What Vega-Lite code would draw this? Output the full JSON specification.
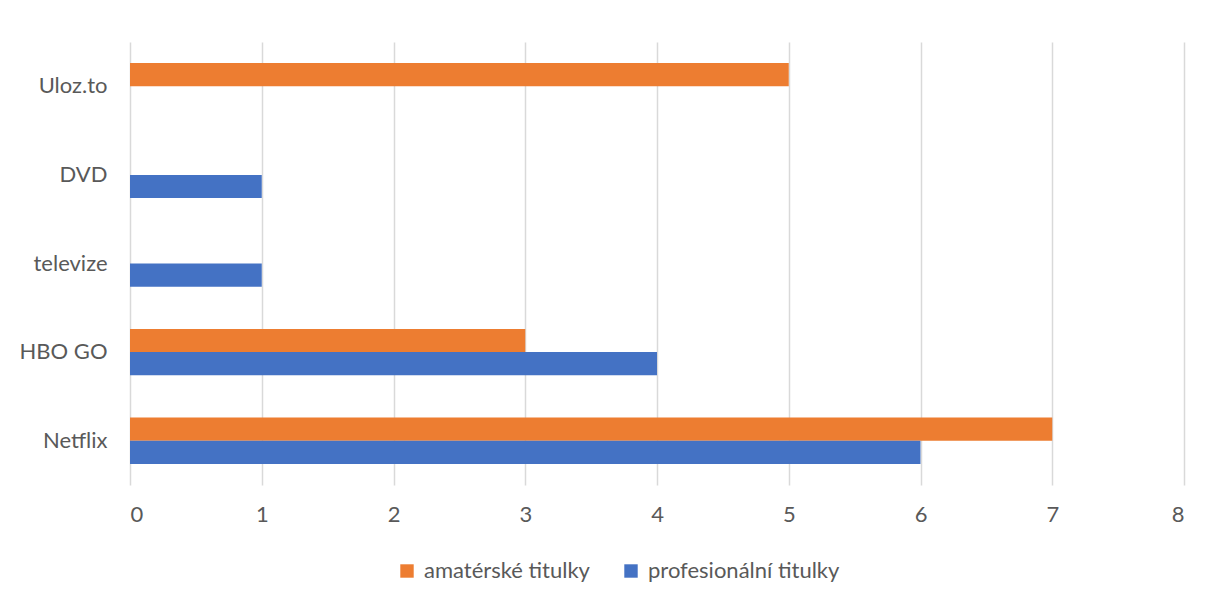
{
  "$schema": "https://vega.github.io/schema/vega-lite/v6.json",
  "width": 1054,
  "height": 443,
  "autosize": {"type": "none"},
  "padding": {"left": 130, "top": 42, "right": 23, "bottom": 117},
  "background": "white",
  "config": {
    "view": {"stroke": null},
    "font": "Lato",
    "axis": {"labelFont": "Lato", "labelColor": "#595959", "labelFontSize": 22, "labelLimit": 400},
    "legend": {"labelFont": "Lato", "labelColor": "#595959", "labelFontSize": 22, "labelLimit": 400}
  },
  "data": {
    "values": [
      {"platform": "Uloz.to", "series": "amatérské titulky", "value": 5},
      {"platform": "Uloz.to", "series": "profesionální titulky", "value": 0},
      {"platform": "DVD", "series": "amatérské titulky", "value": 0},
      {"platform": "DVD", "series": "profesionální titulky", "value": 1},
      {"platform": "televize", "series": "amatérské titulky", "value": 0},
      {"platform": "televize", "series": "profesionální titulky", "value": 1},
      {"platform": "HBO GO", "series": "amatérské titulky", "value": 3},
      {"platform": "HBO GO", "series": "profesionální titulky", "value": 4},
      {"platform": "Netflix", "series": "amatérské titulky", "value": 7},
      {"platform": "Netflix", "series": "profesionální titulky", "value": 6}
    ]
  },
  "mark": {"type": "bar"},
  "encoding": {
    "y": {
      "field": "platform",
      "type": "nominal",
      "sort": ["Uloz.to", "DVD", "televize", "HBO GO", "Netflix"],
      "scale": {"paddingInner": 0.476, "paddingOuter": 0.238},
      "axis": {"title": null, "domain": false, "ticks": false, "labelPadding": 23}
    },
    "yOffset": {
      "field": "series",
      "type": "nominal",
      "sort": ["amatérské titulky", "profesionální titulky"]
    },
    "x": {
      "field": "value",
      "type": "quantitative",
      "scale": {"domain": [0, 8], "nice": false},
      "axis": {
        "title": null,
        "values": [0, 1, 2, 3, 4, 5, 6, 7, 8],
        "domain": false,
        "ticks": false,
        "grid": true,
        "gridColor": "#d9d9d9",
        "gridWidth": 1.5,
        "labelPadding": 19
      }
    },
    "color": {
      "field": "series",
      "type": "nominal",
      "scale": {"domain": ["amatérské titulky", "profesionální titulky"], "range": ["#ED7D31", "#4472C4"]},
      "legend": {
        "title": null,
        "orient": "none",
        "legendX": 266,
        "legendY": 518,
        "direction": "horizontal",
        "symbolType": "square",
        "symbolSize": 180,
        "symbolStrokeWidth": 0,
        "labelOffset": 6,
        "columnPadding": 30
      }
    }
  }
}
